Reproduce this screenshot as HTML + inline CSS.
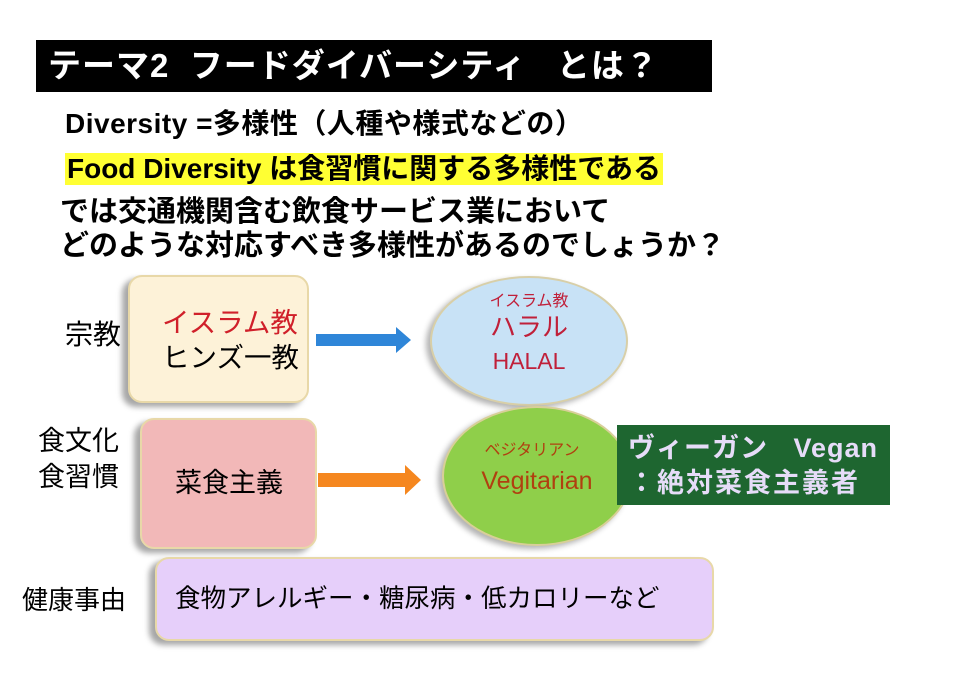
<!DOCTYPE html>
<html><head><meta charset="utf-8"><style>
body{margin:0;width:962px;height:677px;background:#fff;position:relative;overflow:hidden;font-family:"Liberation Sans","Noto Sans CJK JP",sans-serif;}
.a{position:absolute;white-space:nowrap;}
.b{font-weight:bold;}
.box{position:absolute;border-radius:14px;box-shadow:-6px 4px 6px rgba(0,0,0,0.35);border:2px solid #e8d8a8;box-sizing:border-box;}
.ell{position:absolute;border-radius:50%;box-shadow:-4px 3px 6px rgba(0,0,0,0.3);box-sizing:border-box;text-align:center;}
</style></head><body>
<div class="a" style="left:36px;top:40px;width:676px;height:52px;background:#000;"></div>
<div class="a b" style="left:48px;top:42px;font-size:33px;line-height:48px;color:#fff;letter-spacing:1px;">テーマ2&nbsp; フードダイバーシティ&nbsp;&nbsp; とは？</div>
<div class="a b" style="left:65px;top:106px;font-size:28px;line-height:36px;letter-spacing:0.5px;">Diversity =多様性（人種や様式などの）</div>
<div class="a" style="left:65px;top:153px;width:598px;height:32px;background:#ffff33;"></div>
<div class="a b" style="left:67px;top:151px;font-size:28px;line-height:36px;">Food Diversity は食習慣に関する多様性である</div>
<div class="a b" style="left:60px;top:195px;font-size:29px;line-height:34px;">では交通機関含む飲食サービス業において</div>
<div class="a b" style="left:60px;top:229px;font-size:29px;line-height:34px;">どのような対応すべき多様性があるのでしょうか？</div>

<div class="a" style="left:65px;top:318px;font-size:28px;line-height:34px;">宗教</div>
<div class="a" style="left:38px;top:423px;font-size:27px;line-height:36px;">食文化<br>食習慣</div>
<div class="a" style="left:22px;top:584px;font-size:26px;line-height:32px;">健康事由</div>

<div class="box" style="left:128px;top:275px;width:181px;height:128px;background:#fdf2d8;"></div>
<div class="a" style="left:162px;top:305px;font-size:27.5px;line-height:35px;color:#d0202a;">イスラム教</div>
<div class="a" style="left:162px;top:340px;font-size:27.5px;line-height:35px;">ヒンズ一教</div>

<div class="box" style="left:140px;top:418px;width:177px;height:131px;background:#f2b8b8;"></div>
<div class="a" style="left:175px;top:465px;font-size:27px;line-height:36px;">菜食主義</div>

<div class="box" style="left:155px;top:557px;width:559px;height:84px;background:#e6cffa;"></div>
<div class="a" style="left:175px;top:583px;font-size:25.5px;line-height:32px;">食物アレルギー・糖尿病・低カロリーなど</div>

<svg class="a" style="left:0;top:0" width="962" height="677">
<polygon points="316,334 396,334 396,327 411,340 396,353 396,346 316,346" fill="#2f86d8"/>
<polygon points="318,473 405,473 405,465 421,480 405,495 405,487 318,487" fill="#f5871f"/>
</svg>

<div class="ell" style="left:430px;top:276px;width:198px;height:130px;background:#c8e2f6;border:2px solid #d8cfa8;"></div>
<div class="a" style="left:430px;top:292px;width:198px;text-align:center;font-size:16px;line-height:20px;color:#c0203a;">イスラム教</div>
<div class="a" style="left:430px;top:311px;width:198px;text-align:center;font-size:26px;line-height:32px;color:#c0203a;">ハラル</div>
<div class="a" style="left:430px;top:346px;width:198px;text-align:center;font-size:23px;line-height:30px;color:#c0203a;">HALAL</div>

<div class="ell" style="left:442px;top:406px;width:190px;height:140px;background:#8fcf4a;border:2px solid #d8cf98;"></div>
<div class="a" style="left:442px;top:441px;width:180px;text-align:center;font-size:16px;line-height:20px;color:#b04010;">ベジタリアン</div>
<div class="a" style="left:447px;top:465px;width:180px;text-align:center;font-size:25px;line-height:32px;color:#b04010;">Vegitarian</div>

<div class="a" style="left:617px;top:425px;width:273px;height:80px;background:#1e6630;"></div>
<div class="a b" style="left:628px;top:432px;font-size:27px;line-height:33px;color:#e6dcf8;letter-spacing:1px;">ヴィーガン&nbsp;&nbsp; Vegan</div>
<div class="a b" style="left:628px;top:467px;font-size:27px;line-height:33px;color:#e6dcf8;letter-spacing:2px;">：絶対菜食主義者</div>
</body></html>
